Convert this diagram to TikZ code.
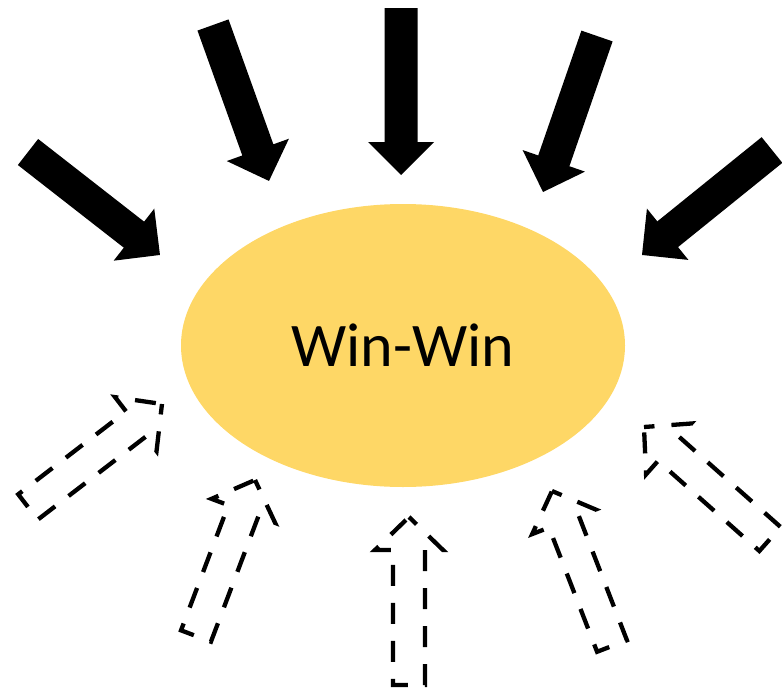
\documentclass[tikz,border=0pt]{standalone}
\usepackage{fontspec}
\setmainfont{Carlito}
\usetikzlibrary{shapes.geometric}
\definecolor{wingold}{RGB}{254,215,102}
\tikzset{
  solidarrow/.style={fill=black, draw=none},
  dasharrow/.style={draw=black, line width=4.3pt, dash pattern=on 21pt off 17pt, dash phase=10.5pt, line join=miter},
  centreblob/.style={ellipse, fill=wingold, inner sep=0pt, minimum width=444pt, minimum height=283pt, font=\fontsize{62}{70}\selectfont}
}
% #1 style, #2 tail, #3 angle, #4 length, #5 head half width, #6 shaft half width
\newcommand\blockarr[6]{%
  \begin{scope}[shift={#2}, rotate=#3]
    \path[#1] (#4,0) -- ({#4-33},#5) -- ({#4-33},#6) -- (0,#6) -- (0,-#6) -- ({#4-33},-#6) -- ({#4-33},-#5) -- cycle;
  \end{scope}}
\begin{document}
\begin{tikzpicture}[x=1pt,y=-1pt]
\useasboundingbox (0,0) rectangle (782,691);
\clip (0,0) rectangle (782,691);
\node[centreblob] (ww) at (403,345.5) {Win-Win};
% solid arrows (pointing in)
\blockarr{solidarrow}{(28,152)}{-37.96}{167.4}{33}{16.5}
\blockarr{solidarrow}{(213,25)}{-70.25}{165.7}{33}{16.5}
\blockarr{solidarrow}{(401,8)}{-90}{167}{33}{16.5}
\blockarr{solidarrow}{(597,36)}{-109.09}{165.1}{33}{16.5}
\blockarr{solidarrow}{(772,150)}{-141.08}{167.1}{33}{16.5}
% dashed arrows
\blockarr{dasharrow}{(28,507)}{37.55}{169}{34}{16}
\blockarr{dasharrow}{(196,636)}{69.28}{166.8}{34}{16}
\blockarr{dasharrow}{(409,685)}{90}{168}{34}{16}
\blockarr{dasharrow}{(612,646)}{111.16}{166.2}{34}{16}
\blockarr{dasharrow}{(770,539)}{138.37}{168.6}{34}{16}
\end{tikzpicture}
\end{document}
